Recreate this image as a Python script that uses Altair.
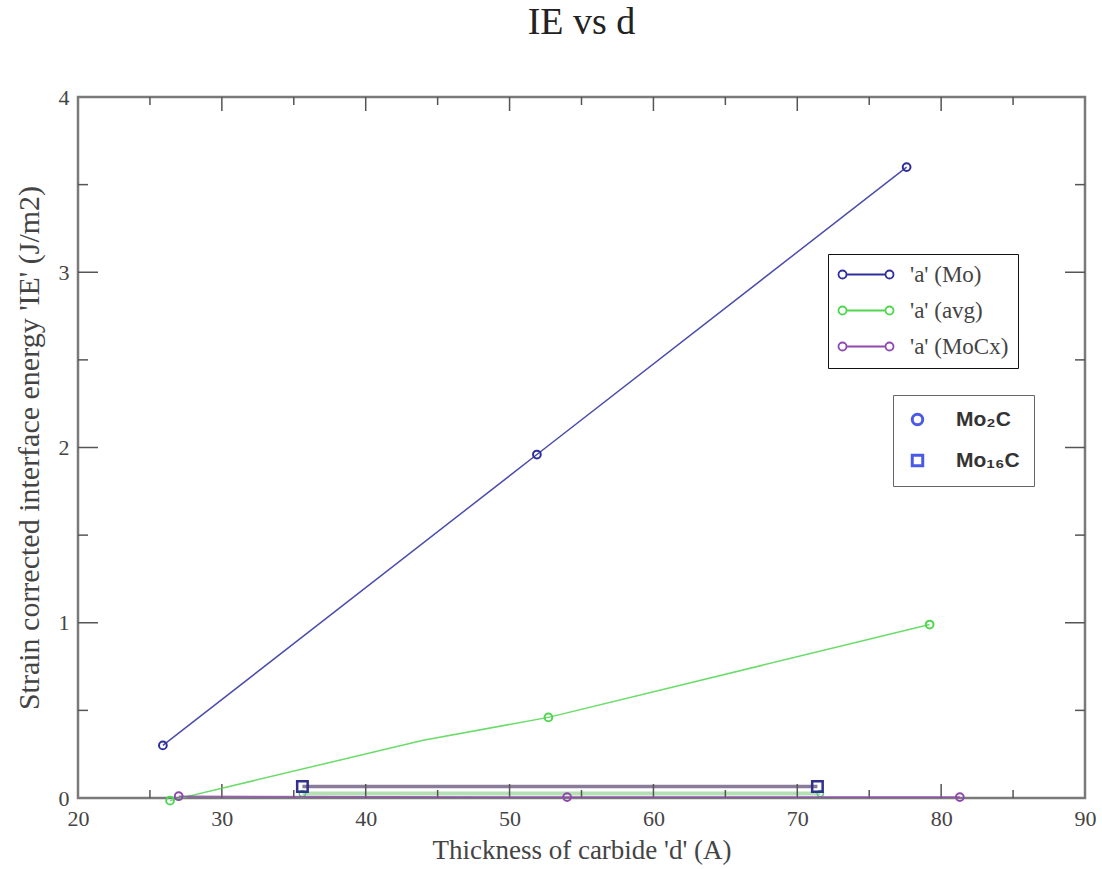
import altair as alt
import pandas as pd

# ---------------- data ----------------
series_names = ["'a' (Mo)", "'a' (avg)", "'a' (MoCx)"]
series_colors = ["#2e2e9c", "#4fd64f", "#9048b0"]

mo_x = [25.9, 51.9, 77.6]
mo_y = [0.30, 1.96, 3.60]

avg_x = [26.4, 52.7, 79.2]
avg_y = [-0.015, 0.46, 0.99]
avg_line_x = [26.4, 44.0, 52.7, 79.2]
avg_line_y = [-0.015, 0.33, 0.46, 0.99]

moc_x = [27.0, 54.0, 81.3]
moc_y = [0.01, 0.005, 0.005]

sq_x = [35.6, 71.4]
sq_y = [0.065, 0.065]

gflat_x = [35.6, 71.6]
gflat_y = [0.025, 0.025]

phase_names = ["Mo\u2082C", "Mo\u2081\u2086C"]

x_major = [20, 30, 40, 50, 60, 70, 80, 90]
x_minor = [25, 35, 45, 55, 65, 75, 85]
y_major = [0, 1, 2, 3, 4]
y_minor = [0.5, 1.5, 2.5, 3.5]

W, H = 1007, 701
SERIF = "Liberation Serif"

# ---------------- tables ----------------
pts = pd.DataFrame({
    "x": mo_x + avg_x + moc_x,
    "y": mo_y + avg_y + moc_y,
    "series": [series_names[0]] * 3 + [series_names[1]] * 3 + [series_names[2]] * 3,
    "phase": [phase_names[0]] * 9,
})
lines = pd.DataFrame({
    "x": mo_x + avg_line_x + moc_x,
    "y": mo_y + avg_line_y + moc_y,
    "series": [series_names[0]] * 3 + [series_names[1]] * 4 + [series_names[2]] * 3,
})
squares = pd.DataFrame({"x": sq_x, "y": sq_y, "phase": [phase_names[1]] * 2})
gflat = pd.DataFrame({"x": gflat_x, "y": gflat_y})

xs = alt.Scale(domain=[20, 90], nice=False, zero=False)
ys = alt.Scale(domain=[0, 4], nice=False, zero=False)

color_scale = alt.Scale(domain=series_names, range=series_colors)
shape_scale = alt.Scale(domain=phase_names, range=["circle", "square"])

sym_path = ("M-0.2,0L3.7,0 "
            "M-0.2,0A0.4,0.4 0 1,1 -1,0A0.4,0.4 0 1,1 -0.2,0 "
            "M4.5,0A0.4,0.4 0 1,1 3.7,0A0.4,0.4 0 1,1 4.5,0")

color_legend = alt.Legend(
    title=None, orient="none", legendX=750, legendY=157,
    symbolType=sym_path, symbolSize=400, symbolStrokeWidth=1.8,
    symbolFillColor="white", symbolOpacity=1,
    labelFont=SERIF, labelFontSize=23, labelColor="#444", labelOffset=50,
    rowPadding=12, padding=9, strokeColor="#111", fillColor="white",
)
shape_legend = alt.Legend(
    title=None, orient="none", legendX=815, legendY=298,
    symbolSize=110, symbolStrokeWidth=3, symbolStrokeColor="#4a5ae6",
    symbolFillColor="white", symbolOpacity=1,
    labelFont="Liberation Sans", labelFontWeight="bold", labelFontSize=21,
    labelColor="#333", labelOffset=28, rowPadding=18, padding=14,
    strokeColor="#666", fillColor="white",
)

x_axis = alt.Axis(values=x_major, format="d", title="Thickness of carbide 'd' (A)",
                  grid=False, ticks=False, domain=False, labelFlush=False,
                  labelFont=SERIF, labelFontSize=22,
                  labelColor="#444", labelPadding=10, titleFont=SERIF,
                  titleFontSize=27, titleFontWeight="normal", titleColor="#444",
                  titlePadding=8)
y_axis = alt.Axis(values=y_major, format="d",
                  title="Strain corrected interface energy 'IE' (J/m2)",
                  grid=False, ticks=False, domain=False, labelFlush=False,
                  labelFont=SERIF, labelFontSize=22, labelColor="#444", labelPadding=9,
                  titleFont=SERIF, titleFontSize=30, titleFontWeight="normal",
                  titleColor="#444", titlePadding=14)

# ---------------- layers ----------------
band_purple = alt.Chart(pd.DataFrame({"x": sq_x, "y": sq_y})).mark_line(
    color="#8a7b9a", strokeWidth=3.5, clip=False).encode(
    x=alt.X("x:Q", scale=xs, axis=x_axis), y=alt.Y("y:Q", scale=ys, axis=y_axis))

band_green = alt.Chart(gflat).mark_line(color="#b4e0b4", strokeWidth=4, clip=False).encode(
    x=alt.X("x:Q", scale=xs), y=alt.Y("y:Q", scale=ys))

green_small = alt.Chart(gflat).mark_point(color="#5ccc7a", size=40, filled=False, opacity=1,
                                          strokeWidth=1.5, clip=False).encode(
    x=alt.X("x:Q", scale=xs), y=alt.Y("y:Q", scale=ys))

line_layer = alt.Chart(lines).mark_line(strokeWidth=1.5, opacity=0.85, clip=False).encode(
    x=alt.X("x:Q", scale=xs), y=alt.Y("y:Q", scale=ys),
    color=alt.Color("series:N", scale=color_scale, legend=color_legend),
    detail="series:N")

point_layer = alt.Chart(pts).mark_point(size=60, filled=False, strokeWidth=2, opacity=1,
                                        clip=False).encode(
    x=alt.X("x:Q", scale=xs), y=alt.Y("y:Q", scale=ys),
    color=alt.Color("series:N", scale=color_scale, legend=color_legend),
    shape=alt.Shape("phase:N", scale=shape_scale, legend=shape_legend))

square_layer = alt.Chart(squares).mark_point(size=110, filled=False, strokeWidth=2.5,
                                             opacity=1, color="#30308f", clip=False).encode(
    x=alt.X("x:Q", scale=xs), y=alt.Y("y:Q", scale=ys),
    shape=alt.Shape("phase:N", scale=shape_scale, legend=shape_legend))

TICK = "#555"
def xticks(vals, length):
    d = pd.DataFrame({"v": vals})
    bottom = alt.Chart(d).mark_rule(color=TICK, strokeWidth=1.5).encode(
        x=alt.X("v:Q", scale=xs), y=alt.value(H), y2=alt.value(H - length))
    top = alt.Chart(d).mark_rule(color=TICK, strokeWidth=1.5).encode(
        x=alt.X("v:Q", scale=xs), y=alt.value(0), y2=alt.value(length))
    return [bottom, top]

def yticks(vals, length):
    d = pd.DataFrame({"v": vals})
    left = alt.Chart(d).mark_rule(color=TICK, strokeWidth=1.5).encode(
        y=alt.Y("v:Q", scale=ys), x=alt.value(0), x2=alt.value(length))
    right = alt.Chart(d).mark_rule(color=TICK, strokeWidth=1.5).encode(
        y=alt.Y("v:Q", scale=ys), x=alt.value(W), x2=alt.value(W - length))
    return [left, right]

tick_layers = (xticks(x_major[1:-1], 14) + xticks(x_minor, 8)
               + yticks(y_major[1:-1], 20) + yticks(y_minor, 10))

chart = alt.layer(
    band_purple, band_green, *tick_layers, green_small, line_layer, point_layer, square_layer
).resolve_scale(color="shared", shape="shared").properties(
    width=W, height=H,
    autosize=alt.AutoSizeParams(type="none"),
    padding={"left": 78, "top": 97, "right": 17, "bottom": 71},
    title=alt.TitleParams("IE vs d", font=SERIF, fontSize=38, fontWeight="normal",
                          color="#222", anchor="middle", offset=44),
).configure(background="white").configure_view(stroke="#7a7a7a", strokeWidth=2.5)

chart.save("out.html", embed_options={"renderer": "svg", "actions": False})
